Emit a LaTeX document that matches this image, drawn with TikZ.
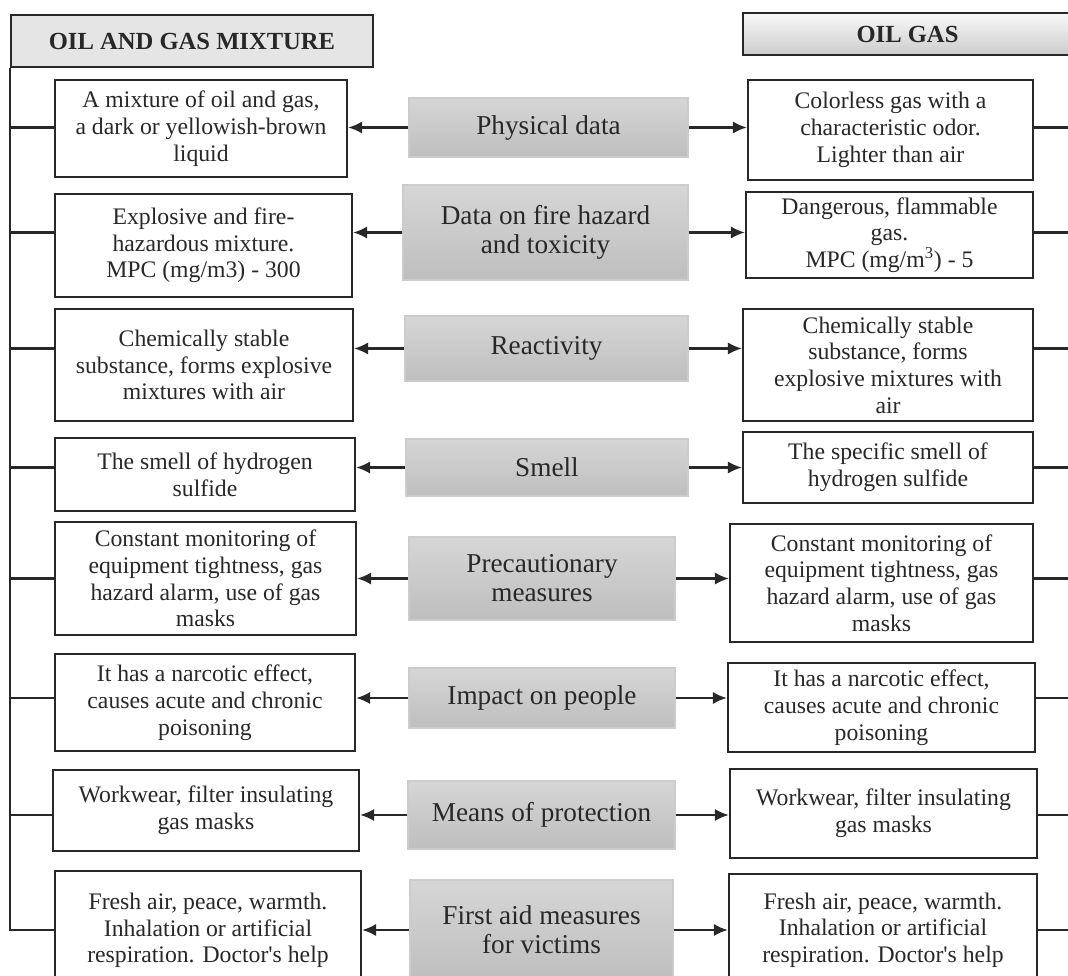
\documentclass[tikz,border=0pt]{standalone}
\usepackage{fontspec}
\setmainfont{Liberation Serif}
\usepackage{tikz}
\usetikzlibrary{arrows.meta}
\definecolor{ink}{RGB}{40,40,40}
\definecolor{midtop}{RGB}{214,214,214}
\definecolor{midbot}{RGB}{190,190,190}

\begin{document}
\begin{tikzpicture}[x=0.02cm,y=-0.02cm,
	sz/.style 2 args={minimum width=#1*0.02cm,minimum height=#2*0.02cm},
	txt/.style={draw=ink,line width=1.3pt,fill=white,inner sep=0pt,align=center,text=ink,font=\fontsize{13.5}{15.2}\selectfont},
	mid/.style={draw=gray!40,line width=0.6pt,top color=midtop,bottom color=midbot,inner sep=0pt,align=center,text=ink,font=\fontsize{15.5}{16.5}\selectfont},
	hdr/.style={draw=ink,inner sep=0pt,text=ink,font=\fontsize{14}{16}\selectfont\bfseries},
	link/.style={-{Latex[length=8pt,width=7pt]},line width=1.2pt,draw=ink},
	wire/.style={line width=1.2pt,draw=ink}]
	\useasboundingbox (0,0) rectangle (1068,976);
	% headers
	\node[hdr,line width=1.6pt,fill=gray!20,sz={362}{52}] (hL) at (192,41) {OIL AND GAS MIXTURE};
	\node[hdr,line width=1.3pt,top color=gray!5,bottom color=gray!40,sz={329}{42}] (hR) at (907.5,34) {OIL GAS};
	\coordinate (rim) at (1075,0);
	
	% middle column
	\node[mid,sz={279}{59}] (M1) at (548.5,127.5) {Physical data};
	\node[mid,sz={285}{95}] (M2) at (545.5,232.5) {Data on fire hazard\\and toxicity};
	\node[mid,sz={283}{65}] (M3) at (546.5,348.5) {Reactivity};
	\node[mid,sz={282}{57}] (M4) at (547,467.5) {Smell};
	\node[mid,sz={266}{83}] (M5) at (542,578.5) {Precautionary\\measures};
	\node[mid,sz={266}{60}] (M6) at (542,698) {Impact on people};
	\node[mid,sz={267}{68}] (M7) at (541.5,815) {Means of protection};
	\node[mid,sz={263}{100}] (M8) at (541.5,930) {First aid measures\\for victims};
	
	% oil and gas mixture
	\node[txt,sz={292}{97}] (L1) at (201,128.5) {A mixture of oil and gas,\\a dark or yellowish-brown\\liquid};
	\node[txt,sz={297}{103}] (L2) at (203.5,245.5) {Explosive and fire-\\hazardous mixture.\\MPC (mg/m3) - 300};
	\node[txt,sz={298}{112}] (L3) at (204,365) {Chemically stable\\substance, forms explosive\\mixtures with air};
	\node[txt,sz={300}{73}] (L4) at (205,474.5) {The smell of hydrogen\\sulfide};
	\node[txt,sz={301}{113}] (L5) at (205.5,578.5) {Constant monitoring of\\equipment tightness, gas\\hazard alarm, use of gas\\masks};
	\node[txt,sz={300}{97}] (L6) at (205,702.5) {It has a narcotic effect,\\causes acute and chronic\\poisoning};
	\node[txt,sz={306}{81}] (L7) at (206,810.5) {Workwear, filter insulating\\gas masks};
	\node[txt,sz={306}{119}] (L8) at (208,930.5) {Fresh air, peace, warmth.\\Inhalation or artificial\\respiration. Doctor\textquotesingle s help};
	
	% oil gas
	\node[txt,sz={285}{100}] (R1) at (890.5,130) {Colorless gas with a\\characteristic odor.\\Lighter than air};
	\node[txt,sz={287}{86}] (R2) at (889.5,235) {Dangerous, flammable\\gas.\\MPC (mg/m\textsuperscript{3}) - 5};
	\node[txt,sz={290}{112}] (R3) at (888,365) {Chemically stable\\substance, forms\\explosive mixtures with\\air};
	\node[txt,sz={290}{71}] (R4) at (888,467.5) {The specific smell of\\hydrogen sulfide};
	\node[txt,sz={303}{118}] (R5) at (881.5,583) {Constant monitoring of\\equipment tightness, gas\\hazard alarm, use of gas\\masks};
	\node[txt,sz={307}{89}] (R6) at (881.5,707.5) {It has a narcotic effect,\\causes acute and chronic\\poisoning};
	\node[txt,sz={307}{89}] (R7) at (883.5,813.5) {Workwear, filter insulating\\gas masks};
	\node[txt,sz={308}{112}] (R8) at (883,930) {Fresh air, peace, warmth.\\Inhalation or artificial\\respiration. Doctor\textquotesingle s help};
	
	\draw[wire] (hL.south west) -- (hL.south west |- M8) -- (L8.west |- M8);
	\foreach \k in {1,...,7}
		\draw[wire] (hL.south west |- M\k) -- (L\k.west |- M\k);
	\foreach \k in {1,...,8} {
		\draw[link] (M\k.west) -- (L\k.east |- M\k.west);
		\draw[link] (M\k.east) -- (R\k.west |- M\k.east);
		\draw[wire] (R\k.east |- M\k) -- (rim |- M\k);
	}
\end{tikzpicture}
\end{document}
